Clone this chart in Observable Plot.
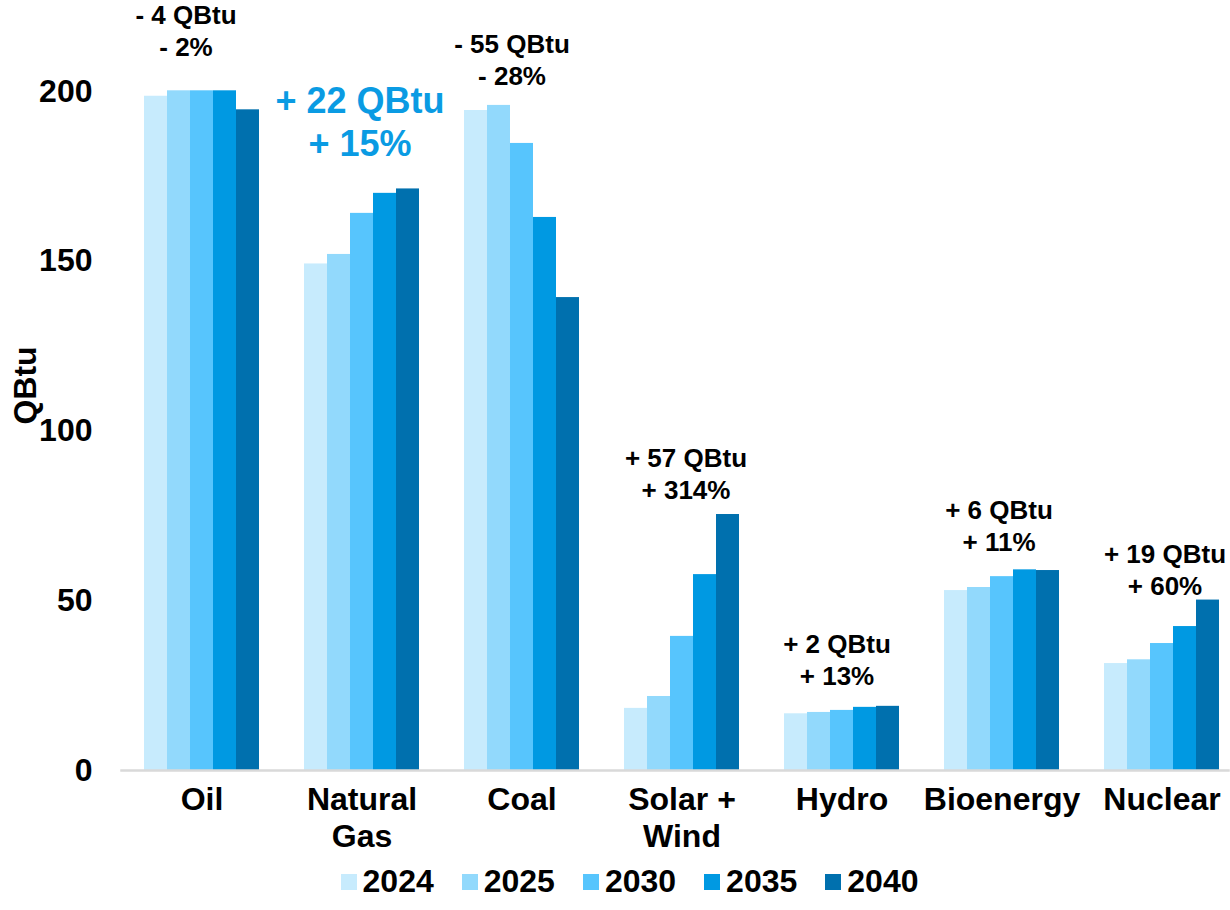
<!DOCTYPE html>
<html>
<head>
<meta charset="utf-8">
<script src="https://cdn.jsdelivr.net/npm/d3@7"></script>
<script src="https://cdn.jsdelivr.net/npm/@observablehq/plot@0.6"></script>
<style>
  html, body { margin: 0; padding: 0; background: #fff; }
  #chart { width: 1230px; font-family: "Liberation Sans", Arial, sans-serif; }
  #legend { display: flex; justify-content: center; margin-top: 8px; padding-left: 57px; }
  #legend .lg-swatches { font-family: "Liberation Sans", Arial, sans-serif; font-size: 32px; font-weight: bold; color: #000; margin: 0; }
  #legend .lg-swatch { margin-right: 28px !important; }
  #legend .lg-swatch > svg { margin-right: 6px !important; }
</style>
</head>
<body>
<div id="chart"></div>
<script>
// ---- data ----
const categories = ["Oil", "Natural Gas", "Coal", "Solar + Wind", "Hydro", "Bioenergy", "Nuclear"];
const categoryLabels = ["Oil", "Natural\nGas", "Coal", "Solar +\nWind", "Hydro", "Bioenergy", "Nuclear"];
const years = ["2024", "2025", "2030", "2035", "2040"];
const v2024 = [198.6, 149.2, 194.4, 18.3, 16.7, 53.0, 31.5];
const v2025 = [200.2, 152.0, 195.9, 21.8, 17.1, 53.9, 32.6];
const v2030 = [200.2, 164.1, 184.7, 39.5, 17.7, 57.1, 37.4];
const v2035 = [200.2, 170.0, 162.9, 57.7, 18.6, 59.1, 42.4];
const v2040 = [194.6, 171.3, 139.3, 75.4, 18.9, 58.9, 50.2];
const changeLabels = ["- 4 QBtu\n- 2%", "+ 22 QBtu\n+ 15%", "- 55 QBtu\n- 28%", "+ 57 QBtu\n+ 314%", "+ 2 QBtu\n+ 13%", "+ 6 QBtu\n+ 11%", "+ 19 QBtu\n+ 60%"];
const yTicks = [0, 50, 100, 150, 200];
const colors = ["#c7ebfd", "#92d9fc", "#57c5fd", "#0099e2", "#0070ae"];

const series = [v2024, v2025, v2030, v2035, v2040];
const table = [];
categories.forEach((c, i) => years.forEach((y, j) => table.push({cat: c, year: y, value: series[j][i]})));
const annotations = categories.map((c, i) => ({
  cat: c, text: changeLabels[i], top: d3.max(series, s => s[i])
}));
const labelOf = new Map(categories.map((c, i) => [c, categoryLabels[i]]));

// per-annotation placement style
const annStyle = {
  "Oil": {dx: -16, dy: -35},
  "Natural Gas": {dx: -2, dy: -33, fontSize: 36, fill: "#0a9be3", lineHeight: 1.19},
  "Coal": {dx: -10, dy: -20},
  "Solar + Wind": {dx: 4, dy: -16},
  "Hydro": {dx: -5, dy: -21},
  "Bioenergy": {dx: -3, dy: -19},
  "Nuclear": {dx: 3, dy: -5}
};

const font = "Liberation Sans, Arial, sans-serif";

const annMarks = annotations.map(a => {
  const s = annStyle[a.cat];
  return Plot.text([a], {
    fx: "cat", y: "top", text: "text",
    lineAnchor: "bottom",
    dx: s.dx, dy: s.dy,
    fontSize: s.fontSize || 26,
    fontWeight: "bold",
    fill: s.fill || "#000",
    lineHeight: s.lineHeight || 1.23
  });
});

const plot = Plot.plot({
  width: 1230,
  height: 855,
  marginLeft: 120,
  marginRight: 0,
  marginTop: 0,
  marginBottom: 85,
  style: {fontFamily: font, background: "#fff", overflow: "visible"},
  fx: {domain: categories, range: [120, 1243], paddingInner: 0.283, paddingOuter: 0.1415, label: null},
  x: {domain: years, padding: 0, axis: null},
  y: {domain: [0, 226.8]},
  color: {domain: years, range: colors},
  marks: [
    Plot.barY(table, {fx: "cat", x: "year", y: "value", fill: "year"}),
    Plot.frame({anchor: "bottom", facet: "super", stroke: "#d9d9d9", strokeWidth: 2.5, insetLeft: -23, insetRight: -9}),
    ...annMarks,
    Plot.axisY({
      ticks: yTicks, tickSize: 0, tickPadding: 52,
      fontSize: 32, fontWeight: "bold", fill: "#000",
      label: "QBtu", labelAnchor: "center", labelOffset: 131, labelArrow: "none"
    }),
    Plot.axisFx({
      anchor: "bottom", tickSize: 0, tickPadding: 13,
      fontSize: 32, fontWeight: "bold", fill: "#000",
      lineHeight: 1.16, tickFormat: d => labelOf.get(d), label: null
    })
  ]
});
document.getElementById("chart").appendChild(plot);

const legend = Plot.legend({
  color: {domain: years, range: colors},
  legend: "swatches",
  swatchSize: 16,
  className: "lg"
});
const lg = document.createElement("div");
lg.id = "legend";
lg.appendChild(legend);
document.getElementById("chart").appendChild(lg);
</script>
</body>
</html>
